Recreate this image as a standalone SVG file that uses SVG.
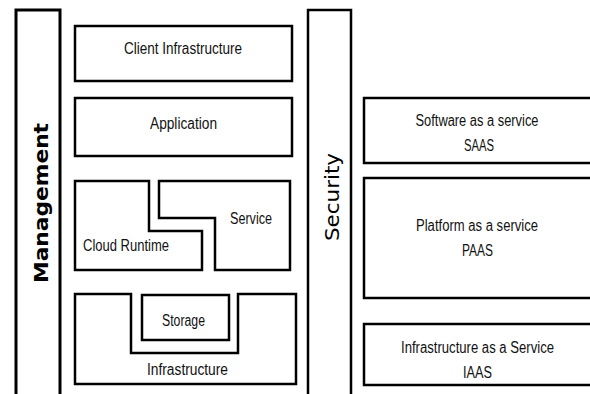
<svg xmlns="http://www.w3.org/2000/svg" width="590" height="394" viewBox="0 0 590 394">
<style>
.box{fill:#fff;stroke:#000;stroke-width:2.5;stroke-linejoin:miter}
.bar{fill:#fff;stroke:#000;stroke-width:2.5}
.lbl{font-family:"Liberation Sans",Arial,sans-serif;font-size:16px;fill:#111;text-anchor:middle}
.vert{font-family:"DejaVu Sans",Verdana,sans-serif;font-size:20px;fill:#000;text-anchor:middle}
</style>
<rect width="590" height="394" fill="#fff"/>
<g id="management">
<rect class="bar" x="16" y="10" width="44" height="400" style="stroke-width:3"/>
<text class="vert" x="0" y="0" transform="translate(48,203) rotate(-90)" font-weight="bold" textLength="160" lengthAdjust="spacingAndGlyphs">Management</text>
</g>
<g id="security">
<rect class="bar" x="308" y="10" width="43" height="400"/>
<text class="vert" x="0" y="0" transform="translate(339,197) rotate(-90)" textLength="88" lengthAdjust="spacingAndGlyphs">Security</text>
</g>
<g id="client-infrastructure">
<rect class="box" x="75" y="26" width="217" height="55"/>
<text class="lbl" x="183" y="54" textLength="118" lengthAdjust="spacingAndGlyphs">Client Infrastructure</text>
</g>
<g id="application">
<rect class="box" x="75" y="98" width="217" height="58"/>
<text class="lbl" x="183.5" y="129" textLength="67" lengthAdjust="spacingAndGlyphs">Application</text>
</g>
<g id="cloud-runtime">
<path class="box" d="M75,181 H149 V231 H202 V270 H75 Z"/>
<text class="lbl" x="126" y="251" textLength="86" lengthAdjust="spacingAndGlyphs">Cloud Runtime</text>
</g>
<g id="service">
<path class="box" d="M159,181 H290 V270 H215 V218 H159 Z"/>
<text class="lbl" x="251" y="224" textLength="42" lengthAdjust="spacingAndGlyphs">Service</text>
</g>
<g id="infrastructure">
<path class="box" d="M75,294 H131 V353 H238 V294 H296 V384 H75 Z"/>
<text class="lbl" x="187.5" y="375" textLength="81" lengthAdjust="spacingAndGlyphs">Infrastructure</text>
</g>
<g id="storage">
<rect class="box" x="142" y="295" width="87" height="45"/>
<text class="lbl" x="183.5" y="326" textLength="43" lengthAdjust="spacingAndGlyphs">Storage</text>
</g>
<g id="saas">
<rect class="box" x="364" y="98" width="240" height="65"/>
<text class="lbl" x="477" y="126" textLength="123" lengthAdjust="spacingAndGlyphs">Software as a service</text>
<text class="lbl" x="479" y="151" textLength="30" lengthAdjust="spacingAndGlyphs">SAAS</text>
</g>
<g id="paas">
<rect class="box" x="364" y="178" width="240" height="120"/>
<text class="lbl" x="477" y="231" textLength="122" lengthAdjust="spacingAndGlyphs">Platform as a service</text>
<text class="lbl" x="477.5" y="256" textLength="31" lengthAdjust="spacingAndGlyphs">PAAS</text>
</g>
<g id="iaas">
<rect class="box" x="364" y="324" width="240" height="61"/>
<text class="lbl" x="477.5" y="353" textLength="153" lengthAdjust="spacingAndGlyphs">Infrastructure as a Service</text>
<text class="lbl" x="477.5" y="378" textLength="29" lengthAdjust="spacingAndGlyphs">IAAS</text>
</g>
<g id="connectors"></g>
</svg>
